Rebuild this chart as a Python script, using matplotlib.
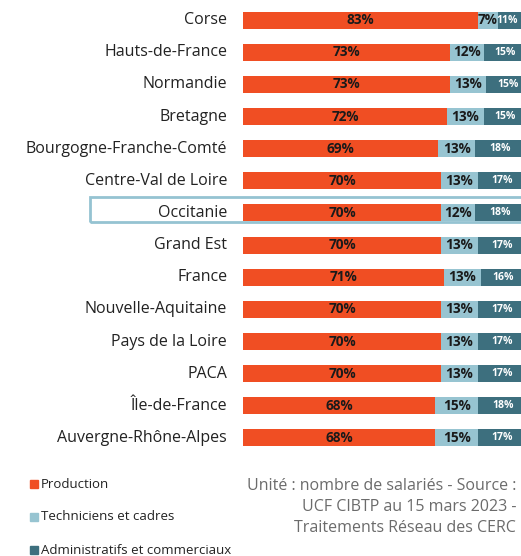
import matplotlib.pyplot as plt
from matplotlib.patches import Rectangle

plt.rcParams['font.family'] = ['Open Sans', 'DejaVu Sans']

regions = ['Corse', 'Hauts-de-France', 'Normandie', 'Bretagne',
           'Bourgogne-Franche-Comté', 'Centre-Val de Loire', 'Occitanie',
           'Grand Est', 'France', 'Nouvelle-Aquitaine', 'Pays de la Loire',
           'PACA', 'Île-de-France', 'Auvergne-Rhône-Alpes']
production = [83, 73, 73, 72, 69, 70, 70, 70, 71, 70, 70, 70, 68, 68]
techniciens = [7, 12, 13, 13, 13, 13, 12, 13, 13, 13, 13, 13, 15, 15]
administratifs = [11, 15, 15, 15, 18, 17, 18, 17, 16, 17, 17, 17, 18, 17]
series_names = ['Production', 'Techniciens et cadres', 'Administratifs et commerciaux']
colors = ['#F04E23', '#97C4D1', '#3D6F7E']
highlight = 'Occitanie'

W, H = 521, 556
fig = plt.figure(figsize=(W / 100, H / 100), dpi=100)
# axes run past the right edge of the figure, like the original
ax = fig.add_axes([243 / W, (H - 454) / H, 283 / W, 450 / H])
ax.set_xlim(0, 100)
ax.set_ylim(len(regions) - 0.5, -0.5)
ax.axis('off')

y = list(range(len(regions)))
h = 0.53
ax.barh(y, production, height=h, color=colors[0])
ax.barh(y, techniciens, left=production, height=h, color=colors[1])
left3 = [p + t for p, t in zip(production, techniciens)]
ax.barh(y, administratifs, left=left3, height=h, color=colors[2])

for i in y:
    ax.text(production[i] / 2, i, f'{production[i]}%', ha='center', va='center',
            fontsize=9.8, fontweight='bold', color='#1a1a1a')
    ax.text(production[i] + techniciens[i] / 2, i, f'{techniciens[i]}%', ha='center',
            va='center', fontsize=9.8, fontweight='bold', color='#1a1a1a')
    # keep the last label inside the visible part of the bar
    xa = min(left3[i] + administratifs[i] / 2, 93.5)
    ax.text(xa, i, f'{administratifs[i]}%', ha='center',
            va='center', fontsize=7.5, fontweight='bold', color='white')
    ax.text(-5.6, i, regions[i], ha='right', va='center', fontsize=11.5,
            color='#222222')

# frame around the highlighted region
rect = Rectangle((90 / W, (H - 222) / H), 440 / W, 25 / H, transform=fig.transFigure,
                 fill=False, edgecolor='#95C3D2', linewidth=2)
fig.patches.append(rect)

# legend
for j, name in enumerate(series_names):
    yy = (H - (484 + 33 * j)) / H
    fig.patches.append(Rectangle((30 / W, yy - 4 / H), 8 / W, 8 / H,
                                 transform=fig.transFigure, color=colors[j]))
    fig.text(41 / W, yy, name, ha='left', va='center', fontsize=9.5, color='#222222')

fig.text(516 / W, (H - 507) / H,
         'Unité : nombre de salariés - Source :\nUCF CIBTP au 15 mars 2023 -\nTraitements Réseau des CERC',
         ha='right', va='center', fontsize=11.5, color='#6b6b6b', linespacing=1.38)

fig.savefig('out.png', dpi=100)
